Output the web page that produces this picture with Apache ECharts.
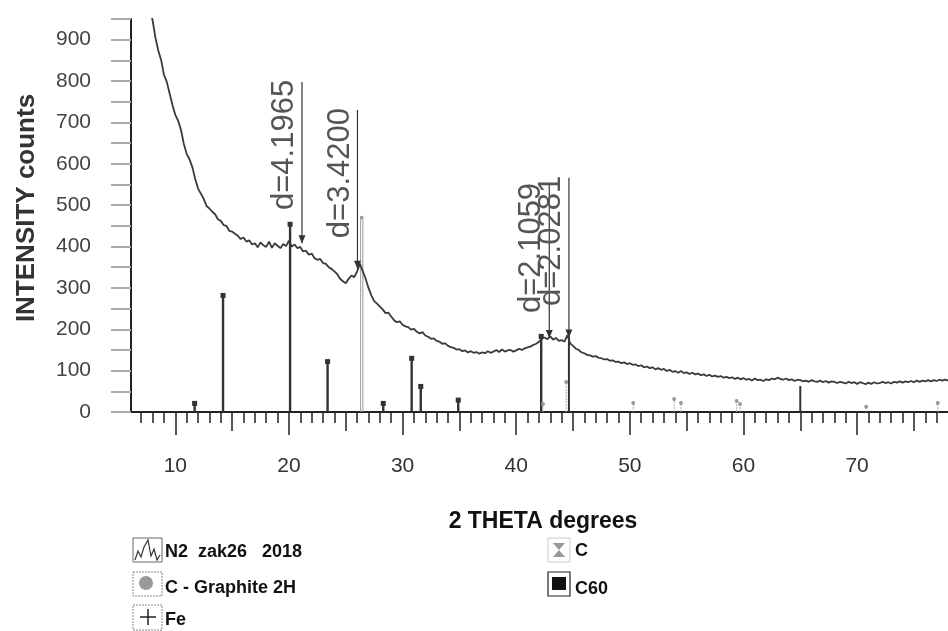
<!DOCTYPE html>
<html>
<head>
<meta charset="utf-8">
<title>XRD N2 zak26 2018</title>
<script src="https://cdn.jsdelivr.net/npm/echarts@6/dist/echarts.min.js"></script>
<style>
    html, body { margin: 0; padding: 0; background: #fff; }
    #chart { width: 948px; height: 631px; }
</style>
</head>
<body>
<div id="chart"></div>
<script>
// measured scan: starts at 6.5 deg, one reading every 0.25 deg
var scanStart = 6.5;
var scanStep = 0.25;
var scanCounts = [
    1150, 1118, 1082, 1041, 1012, 978, 947, 905, 874, 851,
    815, 798, 770, 742, 718, 704, 682, 648, 624, 611,
    592, 563, 540, 528, 515, 498, 492, 484, 478, 466,
    462, 452, 450, 438, 436, 431, 426, 418, 422, 412,
    415, 405, 408, 398, 410, 403, 399, 412, 397, 408,
    402, 396, 406, 401, 414, 400, 405, 396, 399, 388,
    390, 380, 383, 372, 368, 370, 360, 358, 350, 346,
    340, 333, 322, 316, 311, 322, 330, 326, 340, 358,
    340, 322, 300, 282, 268, 262, 255, 248, 239, 240,
    231, 222, 217, 219, 211, 207, 205, 199, 201, 194,
    190, 193, 185, 182, 177, 178, 172, 170, 165, 166,
    160, 157, 155, 151, 152, 147, 149, 144, 147, 143,
    145, 141, 144, 142, 147, 143, 146, 150, 145, 151,
    146, 149, 150, 146, 149, 153, 150, 154, 156, 158,
    162, 165, 170, 177, 180, 176, 183, 175, 179, 172,
    174, 170, 186, 166, 160, 153, 150, 144, 142, 138,
    137, 134, 135, 131, 130, 127, 128, 124, 125, 121,
    122, 118, 120, 116, 118, 114, 115, 111, 113, 108,
    110, 106, 108, 103, 106, 102, 104, 99, 102, 97,
    99, 95, 99, 94, 96, 92, 95, 91, 93, 89,
    91, 87, 90, 86, 88, 85, 87, 83, 85, 82,
    84, 80, 83, 79, 82, 78, 80, 76, 81, 77,
    78, 75, 79, 77, 81, 79, 83, 80, 78, 81,
    77, 79, 75, 78, 77, 74, 76, 73, 77, 74,
    73, 76, 72, 75, 71, 74, 73, 70, 73, 71,
    69, 73, 70, 72, 68, 72, 70, 67, 71, 68,
    72, 69, 70, 73, 70, 72, 69, 73, 71, 74,
    71, 74, 72, 75, 72, 76, 73, 76, 74, 77,
    74, 77, 75, 78, 76, 78, 76
];

// reference sticks: position, height, kind (0 dark, 1 graphite, 2 light, 3 plain dark)
var stickTheta = [11.7, 14.2, 20.1, 23.4, 26.4, 28.3, 30.8, 31.6, 34.9, 42.2, 42.35, 44.4, 44.64, 50.3, 53.9, 54.5, 59.4, 59.7, 65.0, 70.8, 77.1];
var stickHeight = [22, 283, 455, 123, 470, 22, 131, 63, 30, 184, 22, 75, 182, 24, 34, 24, 29, 22, 63, 15, 24];
var stickKind = [0, 0, 0, 0, 1, 0, 0, 0, 0, 0, 2, 2, 3, 2, 2, 2, 2, 2, 3, 2, 2];

// d-spacing markers
var dTheta = [21.15, 26.03, 42.91, 44.64];
var dTop = [798, 730, 549, 566];
var dBottom = [408, 346, 179, 180];
var dLabels = ['d=4.1965', 'd=3.4200', 'd=2.1059', 'd=2.0281'];

var xTickLabels = [10, 20, 30, 40, 50, 60, 70];
var xMidTicks = [10, 15, 20, 25, 30, 35, 40, 45, 50, 55, 60, 65, 70, 75];
var yTickLabels = [0, 100, 200, 300, 400, 500, 600, 700, 800, 900];

var FONT = "'Liberation Sans', Arial, sans-serif";
var X_MIN = 6.1, X_MAX = 78;

var xMinorTicks = [];
for (var t = 7; t <= 77; t++) xMinorTicks.push(t);

var scanData = [];
for (var i = 0; i < scanCounts.length; i++) scanData.push([scanStart + i * scanStep, scanCounts[i]]);

var stickData = [];
for (var i = 0; i < stickTheta.length; i++) stickData.push([stickTheta[i], stickHeight[i], stickKind[i]]);

var dData = [];
for (var i = 0; i < dTheta.length; i++) dData.push([dTheta[i], dTop[i], dBottom[i]]);

function xAxisBase(ticks, len, withLabels) {
    return {
        type: 'value', min: X_MIN, max: X_MAX, position: 'bottom',
        axisLine: { show: !withLabels && len < 15, lineStyle: { color: '#222', width: 2 } },
        axisTick: { show: true, customValues: ticks, length: len, lineStyle: { color: '#222', width: 1.5 } },
        axisLabel: withLabels ? {
            show: true, customValues: xTickLabels, margin: 44,
            fontSize: 21, color: '#333', fontFamily: FONT
        } : { show: false },
        splitLine: { show: false }
    };
}

function renderStick(params, api) {
    var x = api.value(0);
    var kind = api.value(2);
    var p0 = api.coord([x, 0]);
    var p1 = api.coord([x, api.value(1)]);
    var kids = [];
    if (kind === 1) {
        kids.push({ type: 'line', shape: { x1: p0[0] - 1, y1: p0[1], x2: p1[0] - 1, y2: p1[1] }, style: { stroke: '#9a9a9a', lineWidth: 1 } });
        kids.push({ type: 'line', shape: { x1: p0[0] + 1.2, y1: p0[1], x2: p1[0] + 1.2, y2: p1[1] }, style: { stroke: '#9a9a9a', lineWidth: 1 } });
        kids.push({ type: 'circle', shape: { cx: p1[0], cy: p1[1], r: 1.8 }, style: { fill: '#999' } });
    } else if (kind === 2) {
        kids.push({ type: 'line', shape: { x1: p0[0], y1: p0[1], x2: p1[0], y2: p1[1] }, style: { stroke: '#aaa', lineWidth: 1, lineDash: [2, 1] } });
        kids.push({ type: 'circle', shape: { cx: p1[0], cy: p1[1] + 1, r: 2 }, style: { fill: '#999' } });
    } else {
        kids.push({ type: 'line', shape: { x1: p0[0], y1: p0[1], x2: p1[0], y2: p1[1] }, style: { stroke: '#333', lineWidth: kind === 3 ? 2 : 2.4 } });
        if (kind === 0) {
            kids.push({ type: 'rect', shape: { x: p1[0] - 2.5, y: p1[1] - 2, width: 5, height: 5 }, style: { fill: '#333' } });
        }
    }
    return { type: 'group', children: kids };
}

function renderDLine(params, api) {
    var x = api.value(0);
    var top = api.coord([x, api.value(1)]);
    var bot = api.coord([x, api.value(2)]);
    var i = params.dataIndex;
    return {
        type: 'group',
        children: [
            { type: 'line', shape: { x1: top[0], y1: top[1], x2: bot[0], y2: bot[1] }, style: { stroke: '#333', lineWidth: 1.2 } },
            { type: 'polygon', shape: { points: [[bot[0] - 3.5, bot[1] - 8], [bot[0] + 3.5, bot[1] - 8], [bot[0], bot[1]]] }, style: { fill: '#333' } },
            {
                type: 'text', x: top[0] - 2, y: top[1] - 2, rotation: Math.PI / 2,
                style: { text: dLabels[i], align: 'right', verticalAlign: 'bottom', fontSize: 31, fontFamily: FONT, fill: '#555' }
            }
        ]
    };
}

var myChart = echarts.init(document.getElementById('chart'));

var legendBox = { stroke: '#888', lineWidth: 1, lineDash: [2, 1], fill: 'none' };
var legendText = { fontSize: 18, fontWeight: 'bold', fontFamily: FONT, fill: '#111', verticalAlign: 'middle' };

var option = {
    backgroundColor: '#fff',
    animation: false,
    grid: { left: 131, right: 0, top: 19, bottom: 219, containLabel: false },
    xAxis: [
        xAxisBase(xMinorTicks, 11, false),
        xAxisBase(xMidTicks, 19, false),
        xAxisBase(xTickLabels, 23, true)
    ],
    yAxis: {
        type: 'value', min: 0, max: 950, interval: 50,
        axisLine: { show: true, lineStyle: { color: '#222', width: 2 } },
        axisTick: { show: true, length: 20, lineStyle: { color: '#aaa', width: 2 } },
        axisLabel: { customValues: yTickLabels, margin: 40, fontSize: 21, color: '#444', fontFamily: FONT },
        splitLine: { show: false }
    },
    series: [
        {
            type: 'custom', name: 'sticks', xAxisIndex: 0, renderItem: renderStick,
            encode: { x: 0, y: 1 }, data: stickData, z: 2
        },
        {
            type: 'line', name: 'N2 zak26 2018', xAxisIndex: 0, data: scanData, showSymbol: false,
            lineStyle: { color: '#3a3a3a', width: 1.8 }, clip: true, z: 3
        },
        {
            type: 'custom', name: 'd', xAxisIndex: 0, renderItem: renderDLine,
            encode: { x: 0, y: [1, 2] }, data: dData, z: 4, clip: false
        }
    ],
    graphic: [
        {
            type: 'text', x: 27, y: 208, rotation: Math.PI / 2,
            style: { text: 'INTENSITY counts', fontSize: 26, fontWeight: 'bold', fontFamily: FONT, fill: '#333', align: 'center', verticalAlign: 'middle' }
        },
        {
            type: 'text', x: 543, y: 522,
            style: { text: '2 THETA degrees', fontSize: 23, fontWeight: 'bold', fontFamily: FONT, fill: '#111', align: 'center', verticalAlign: 'middle' }
        },
        // legend
        { type: 'rect', shape: { x: 133, y: 538, width: 29, height: 24 }, style: { stroke: '#666', lineWidth: 1, fill: 'none' } },
        { type: 'polyline', shape: { points: [[135, 560], [138, 551], [141, 557], [144, 547], [148, 540], [151, 556], [154, 549], [157, 560], [160, 555]] }, style: { stroke: '#333', lineWidth: 1.2, fill: 'none' } },
        { type: 'text', x: 165, y: 552, style: Object.assign({ text: 'N2  zak26   2018' }, legendText) },

        { type: 'rect', shape: { x: 133, y: 572, width: 29, height: 24 }, style: legendBox },
        { type: 'circle', shape: { cx: 146, cy: 583, r: 7 }, style: { fill: '#9a9a9a' } },
        { type: 'text', x: 165, y: 588, style: Object.assign({ text: 'C - Graphite 2H' }, legendText) },

        { type: 'rect', shape: { x: 133, y: 605, width: 29, height: 25 }, style: legendBox },
        { type: 'line', shape: { x1: 140, y1: 617, x2: 156, y2: 617 }, style: { stroke: '#222', lineWidth: 1.5 } },
        { type: 'line', shape: { x1: 148, y1: 609, x2: 148, y2: 625 }, style: { stroke: '#222', lineWidth: 1.5 } },
        { type: 'text', x: 165, y: 620, style: Object.assign({ text: 'Fe' }, legendText) },

        { type: 'rect', shape: { x: 548, y: 538, width: 22, height: 24 }, style: { stroke: '#ccc', lineWidth: 1, fill: 'none' } },
        { type: 'polygon', shape: { points: [[553, 543], [565, 543], [559, 550], [565, 557], [553, 557], [559, 550]] }, style: { fill: '#999' } },
        { type: 'text', x: 575, y: 551, style: Object.assign({ text: 'C' }, legendText) },

        { type: 'rect', shape: { x: 548, y: 572, width: 22, height: 24 }, style: { stroke: '#222', lineWidth: 1.2, fill: 'none' } },
        { type: 'rect', shape: { x: 552, y: 577, width: 14, height: 13 }, style: { fill: '#111' } },
        { type: 'text', x: 575, y: 589, style: Object.assign({ text: 'C60' }, legendText) }
    ]
};

myChart.setOption(option);
</script>
</body>
</html>
